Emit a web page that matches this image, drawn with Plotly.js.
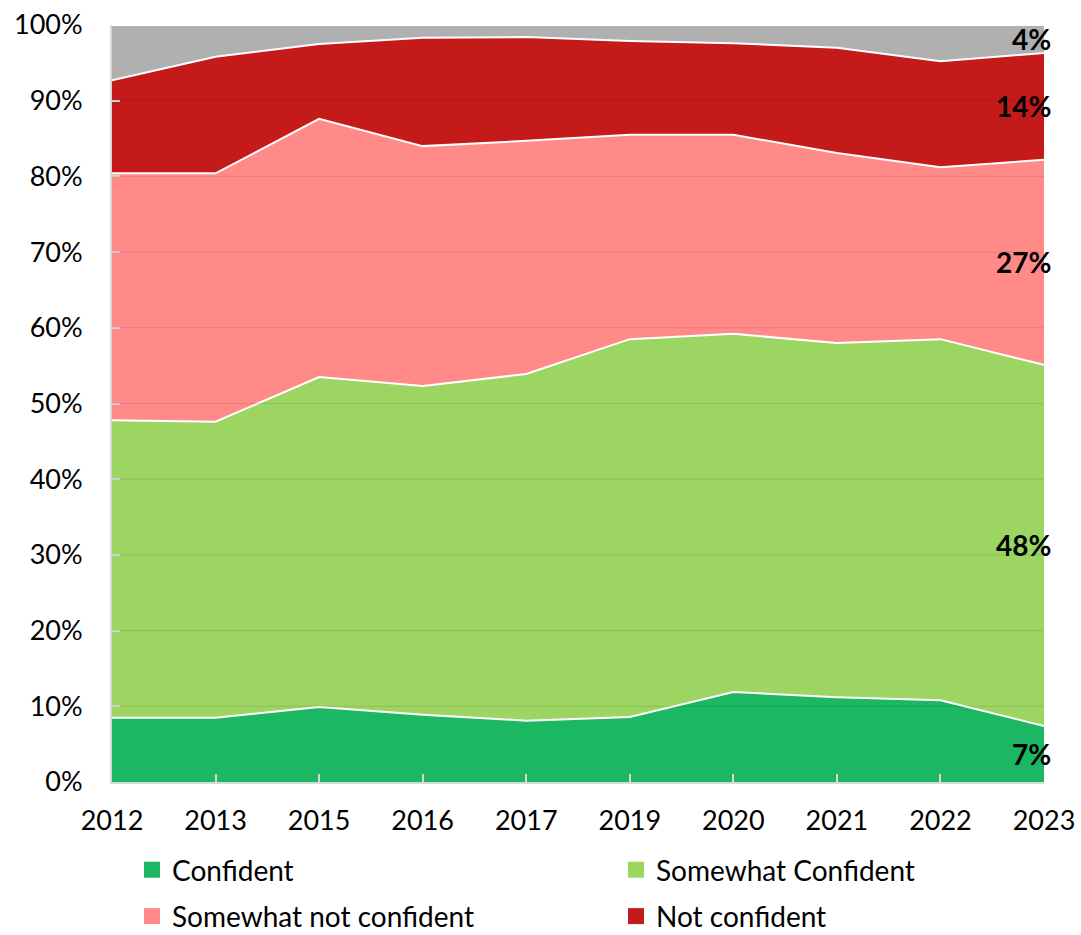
<!DOCTYPE html>
<html>
<head>
<meta charset="utf-8">
<script src="https://cdn.plot.ly/plotly-3.0.1.min.js"></script>
<style>
  html, body { margin: 0; padding: 0; background: #ffffff; }
  #chart { width: 1081px; height: 935px; }
</style>
</head>
<body>
<div id="chart"></div>
<script>
// ---- data (percent) ----
const years = ['2012','2013','2015','2016','2017','2019','2020','2021','2022','2023'];
const confident          = [8.5, 8.5, 9.9, 8.9, 8.1, 8.6, 11.9, 11.2, 10.8, 7.4];
const somewhatConfident  = [39.3, 39.1, 43.6, 43.4, 45.8, 49.9, 47.3, 46.8, 47.7, 47.7];
const somewhatNotConf    = [32.6, 32.8, 34.1, 31.7, 30.8, 27.0, 26.3, 25.1, 22.7, 27.1];
const notConfident       = [12.3, 15.4, 9.9, 14.3, 13.7, 12.4, 12.1, 13.9, 14.0, 14.1];
const other              = [7.3, 4.2, 2.5, 1.7, 1.6, 2.1, 2.4, 3.0, 4.8, 3.7];

const seriesNames  = ['Confident', 'Somewhat Confident', 'Somewhat not confident', 'Not confident', 'Other'];
const seriesValues = [confident, somewhatConfident, somewhatNotConf, notConfident, other];
const seriesColors = ['#1bb763', '#9dd563', '#ff8a88', '#c41a1a', '#b0b0b0'];
const yTicks = [0,10,20,30,40,50,60,70,80,90,100];

const FONT = 'Lato, "Liberation Sans", sans-serif';

const traces = [];
seriesValues.forEach((vals, i) => {
  traces.push({
    type: 'scatter', mode: 'lines', x: years, y: vals,
    name: seriesNames[i], stackgroup: 'one',
    fillcolor: seriesColors[i],
    line: { color: '#ffffff', width: 2 },
    showlegend: false, hoverinfo: 'skip'
  });
});
// legend-only entries (square swatches)
const legendAssign = ['legend', 'legend2', 'legend', 'legend2'];
for (let i = 0; i < 4; i++) {
  traces.push({
    type: 'scatter', mode: 'markers', x: [null], y: [null],
    name: seriesNames[i], legend: legendAssign[i], legendgroup: 'g' + i,
    marker: { symbol: 'square', size: 18, color: seriesColors[i] },
    showlegend: true
  });
}

// labels at last category: centred in each band
const last = years.length - 1;
const annotations = [];
let base = 0;
seriesValues.forEach((vals) => {
  const v = vals[last];
  annotations.push({
    x: last, y: base + v / 2, xref: 'x', yref: 'y',
    text: '<b>' + Math.round(v) + '%</b>', showarrow: false,
    xanchor: 'right', yanchor: 'middle', xshift: 9,
    font: { family: FONT, size: 28, color: '#000000' }
  });
  base += v;
});

// gridlines drawn over the areas
const shapes = yTicks.filter(t => t > 0 && t < 100).map(t => ({
  type: 'line', xref: 'paper', yref: 'y', x0: 0, x1: 1, y0: t, y1: t,
  line: { color: 'rgba(0,0,0,0.10)', width: 1 }, layer: 'above'
}));

const legendCommon = {
  xref: 'container', yref: 'container', y: 1 - 845 / 935,
  xanchor: 'left', yanchor: 'top', orientation: 'v',
  traceorder: 'grouped', tracegroupgap: 7, itemwidth: 30,
  bgcolor: 'rgba(0,0,0,0)',
  font: { family: FONT, size: 28, color: '#000000' }
};

const layout = {
  width: 1081, height: 935,
  margin: { l: 112, r: 37, t: 25, b: 153, autoexpand: false },
  paper_bgcolor: '#ffffff', plot_bgcolor: '#ffffff',
  font: { family: FONT, size: 27, color: '#000000' },
  showlegend: true,
  xaxis: {
    type: 'category', range: [0, years.length - 1],
    showgrid: false, zeroline: false,
    showline: true, linecolor: '#d9d9d9', linewidth: 2,
    ticks: 'inside', ticklen: 8, tickcolor: '#d9d9d9', tickwidth: 2,
    ticklabelstandoff: 14, tickangle: 0,
    tickfont: { family: FONT, size: 27, color: '#000000' }
  },
  yaxis: {
    range: [0, 100], tickvals: yTicks, ticktext: yTicks.map(t => t + '%'),
    showgrid: false, zeroline: false,
    showline: true, linecolor: '#d9d9d9', linewidth: 2,
    ticks: 'inside', ticklen: 8, tickcolor: '#d9d9d9', tickwidth: 2,
    ticklabelstandoff: 22,
    tickfont: { family: FONT, size: 27, color: '#000000' }
  },
  legend: Object.assign({}, legendCommon, { x: 132 / 1081 }),
  legend2: Object.assign({}, legendCommon, { x: 616 / 1081 }),
  annotations: annotations,
  shapes: shapes
};

Plotly.newPlot('chart', traces, layout, { displayModeBar: false, staticPlot: true });
</script>
</body>
</html>
